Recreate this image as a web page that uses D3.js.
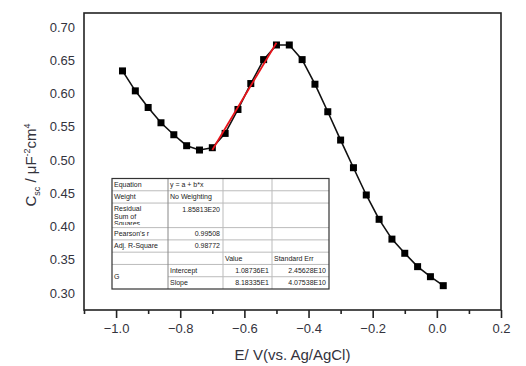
<!DOCTYPE html>
<html><head><meta charset="utf-8">
<script src="https://cdn.jsdelivr.net/npm/d3@7"></script>
<style>body{margin:0;background:#fff}svg{display:block}text{font-family:"Liberation Sans",Arial,sans-serif}</style>
</head><body><svg id="c" width="526" height="366"></svg>
<script>
const potentials = [-0.98,-0.94,-0.90,-0.86,-0.82,-0.78,-0.74,-0.70,-0.66,-0.62,-0.58,-0.54,-0.50,-0.46,-0.42,-0.38,-0.34,-0.30,-0.26,-0.22,-0.18,-0.14,-0.10,-0.06,-0.02,0.02];
const capacitance = [0.634,0.604,0.579,0.556,0.538,0.5215,0.515,0.5185,0.540,0.576,0.615,0.651,0.673,0.673,0.651,0.614,0.5726,0.530,0.4884,0.4474,0.4108,0.381,0.3597,0.3396,0.3245,0.311];
const fitX = [-0.70,-0.50];
const fitY = [0.515,0.6764];
const xTicks = [-1.0,-0.8,-0.6,-0.4,-0.2,0.0,0.2];
const xMinorTicks = [-1.1,-0.9,-0.7,-0.5,-0.3,-0.1,0.1];
const yTicks = [0.30,0.35,0.40,0.45,0.50,0.55,0.60,0.65,0.70];
const tableLabels = ["Equation","Weight","Residual\nSum of\nSquares","Pearson's r","Adj. R-Square","","G",""];
const tableCol1 = ["y = a + b*x","No Weighting","1.85813E20","0.99508","0.98772","","Intercept","Slope"];
const tableCol2 = ["","","","","","Value","1.08736E1","8.18335E1"];
const tableCol3 = ["","","","","","Standard Err","2.45628E10","4.07538E10"];
const tableRowUnits = [1,1,2,1,1,1,1,1];

const svg = d3.select("#c");
const L=84,R=501,T=13,B=310;
const x = d3.scaleLinear().domain([-1.1,0.2]).range([L,R]);
const y = d3.scaleLinear().domain([0.2744,0.7211]).range([B,T]);
const ink = "#33333d";

// frame
svg.append("rect").attr("x",L).attr("y",T).attr("width",R-L).attr("height",B-T)
  .attr("fill","none").attr("stroke","#222").attr("stroke-width",1.6);

// x axis
const xa = svg.append("g").attr("transform",`translate(0,${B})`)
  .call(d3.axisBottom(x).tickValues(xTicks).tickSize(8).tickPadding(6).tickFormat(d3.format(".1f")));
xa.select(".domain").remove();
xa.selectAll("line").attr("stroke","#222").attr("stroke-width",1.6);
xa.selectAll("text").attr("font-size",13).attr("fill",ink).attr("font-family","Liberation Sans, Arial, sans-serif");
const xm = svg.append("g").attr("transform",`translate(0,${B})`)
  .call(d3.axisBottom(x).tickValues(xMinorTicks).tickSize(4).tickFormat(""));
xm.select(".domain").remove();
xm.selectAll("line").attr("stroke","#222").attr("stroke-width",1.6);

// y axis labels only
const ya = svg.append("g").attr("transform",`translate(${L},0)`)
  .call(d3.axisLeft(y).tickValues(yTicks).tickSize(0).tickPadding(9).tickFormat(d3.format(".2f")));
ya.select(".domain").remove();
ya.selectAll("text").attr("font-size",13).attr("fill",ink).attr("font-family","Liberation Sans, Arial, sans-serif");

// titles
svg.append("text").attr("x",(L+R)/2).attr("y",360).attr("text-anchor","middle")
  .attr("font-size",15).attr("fill",ink).text("E/ V(vs. Ag/AgCl)");
const yl = svg.append("text").attr("transform","translate(36,165) rotate(-90)")
  .attr("text-anchor","middle").attr("font-size",15).attr("fill",ink);
yl.append("tspan").text("C");
yl.append("tspan").attr("font-size",9).attr("dy",4).text("sc");
yl.append("tspan").attr("dy",-4).text(" / μF");
yl.append("tspan").attr("font-size",9).attr("dy",-6).text("-2");
yl.append("tspan").attr("dy",6).text("cm");
yl.append("tspan").attr("font-size",9).attr("dy",-6).text("4");

// data line
const pts = potentials.map((v,i)=>[v,capacitance[i]]);
svg.append("path").datum(pts).attr("fill","none").attr("stroke","#111").attr("stroke-width",1.6)
  .attr("d",d3.line().x(d=>x(d[0])).y(d=>y(d[1])));
svg.selectAll("rect.m").data(pts).enter().append("rect").attr("class","m")
  .attr("x",d=>x(d[0])-3.5).attr("y",d=>y(d[1])-3.5).attr("width",7).attr("height",7).attr("fill","#000");
// fit line
svg.append("path").datum(fitX.map((v,i)=>[v,fitY[i]])).attr("fill","none").attr("stroke","#e8141b").attr("stroke-width",1.8)
  .attr("d",d3.line().x(d=>x(d[0])).y(d=>y(d[1])));

// table
const tx=[112,168,223,272,329], tTop=178.5, tBot=289;
const unitH=(tBot-tTop)/d3.sum(tableRowUnits);
const rowY=[tTop]; tableRowUnits.forEach((u,i)=>rowY.push(rowY[i]+u*unitH));
const tg = svg.append("g");
tg.append("rect").attr("x",tx[0]).attr("y",tTop).attr("width",tx[4]-tx[0]).attr("height",tBot-tTop).attr("fill","#fff");
for(let i=1;i<rowY.length-1;i++){
  const x0 = (i===7)? tx[1] : tx[0];
  tg.append("line").attr("x1",x0).attr("x2",tx[4]).attr("y1",rowY[i]).attr("y2",rowY[i]).attr("stroke","#bbb").attr("stroke-width",1);
}
for(let j=1;j<4;j++){
  tg.append("line").attr("x1",tx[j]).attr("x2",tx[j]).attr("y1",tTop).attr("y2",tBot).attr("stroke",j===1?"#888":"#bbb").attr("stroke-width",1);
}
tg.append("rect").attr("x",tx[0]).attr("y",tTop).attr("width",tx[4]-tx[0]).attr("height",tBot-tTop)
  .attr("fill","none").attr("stroke","#333").attr("stroke-width",1.2);
svg.append("defs").append("clipPath").attr("id","rc").append("rect")
  .attr("x",tx[0]).attr("y",rowY[2]).attr("width",tx[1]-tx[0]).attr("height",rowY[3]-rowY[2]-2.5);
const fs=7;
tableLabels.forEach((t,i)=>{
  if(!t) return;
  if(i===6){ tg.append("text").attr("x",tx[0]+2).attr("y",(rowY[6]+rowY[8])/2+2.5).attr("font-size",fs).attr("fill","#222").text(t); return; }
  const lines=t.split("\n");
  const g = tg.append("text").attr("font-size",fs).attr("fill","#222");
  if(lines.length>1) g.attr("clip-path","url(#rc)");
  lines.forEach((s,k)=>g.append("tspan").attr("x",tx[0]+2).attr("y",rowY[i]+8+k*7.5).text(s));
});
tableCol1.forEach((t,i)=>{
  if(!t) return;
  const right = /^[0-9]/.test(t);
  tg.append("text").attr("font-size",fs).attr("fill","#222")
    .attr("x",right? tx[2]-3 : tx[1]+2).attr("text-anchor",right?"end":"start")
    .attr("y",rowY[i]+8.5).text(t);
});
tableCol2.forEach((t,i)=>{
  if(!t) return;
  const hdr = i===5;
  tg.append("text").attr("font-size",fs).attr("fill","#222")
    .attr("x",hdr? tx[2]+2 : tx[3]-3).attr("text-anchor",hdr?"start":"end").attr("y",rowY[i]+8.5).text(t);
});
tableCol3.forEach((t,i)=>{
  if(!t) return;
  const hdr = i===5;
  tg.append("text").attr("font-size",fs).attr("fill","#222")
    .attr("x",hdr? tx[3]+2 : tx[4]-3).attr("text-anchor",hdr?"start":"end").attr("y",rowY[i]+8.5).text(t);
});
</script></body></html>
